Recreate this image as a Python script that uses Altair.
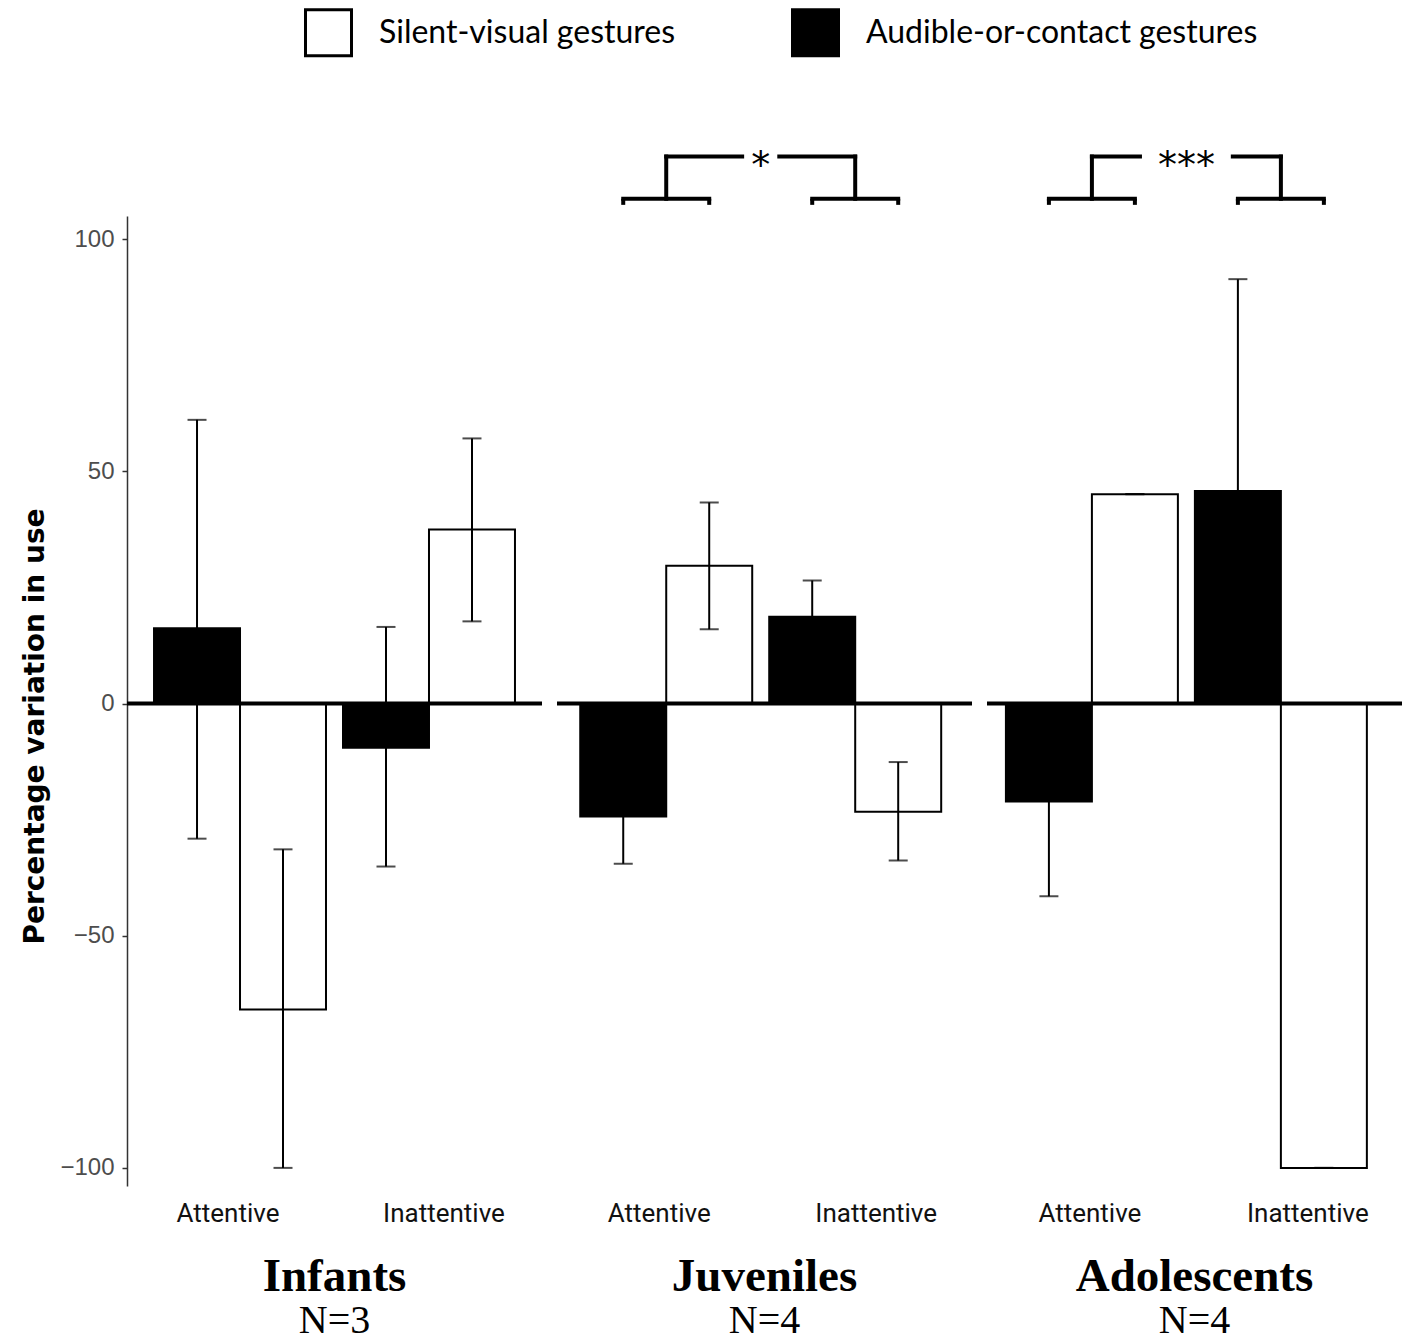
import altair as alt
import pandas as pd

# ---------------- data ----------------
groups = ["Infants", "Juveniles", "Adolescents"]
group_n = ["N=3", "N=4", "N=4"]
conditions = ["Attentive", "Inattentive"]
series = ["Audible-or-contact gestures", "Silent-visual gestures"]   # left / right bar in each pair
legend_order = ["Silent-visual gestures", "Audible-or-contact gestures"]

# order inside each group: Att-Audible, Att-Silent, Inatt-Audible, Inatt-Silent
means = {
    "Infants":     [16.2, -65.9, -9.5, 37.5],
    "Juveniles":   [-24.3, 29.7, 18.7, -23.3],
    "Adolescents": [-21.1, 45.1, 45.8, -100.0],
}
err_lo = {
    "Infants":     [-29.1, -100.0, -35.1, 17.7],
    "Juveniles":   [-34.5, 16.0, 10.9, -33.8],
    "Adolescents": [-41.5, 45.1, 0.2, -100.0],
}
err_hi = {
    "Infants":     [61.1, -31.4, 16.5, 57.1],
    "Juveniles":   [-14.1, 43.3, 26.5, -12.6],
    "Adolescents": [-0.4, 45.1, 91.4, -100.0],
}
sig_groups = ["Juveniles", "Adolescents"]
sig_labels = ["*", "***"]

rows = []
for g in groups:
    k = 0
    for c in conditions:
        for s in series:
            rows.append(dict(group=g, condition=c, series=s,
                             mean=means[g][k], lo=err_lo[g][k], hi=err_hi[g][k]))
            k += 1
df = pd.DataFrame(rows)

# ---------------- layout / style constants ----------------
Y_DOMAIN = [-103.9, 105.0]
PAD_INNER = 0.09
PAD_OUTER = 0.143
ALIGNS = [0.5, 0.43, 0.35]                 # outer-padding split per panel
PANEL_W = 415
PANEL_H = 970
BR_LOW = 108.7
BR_HIGH = 117.8
BR_TICK = 107.4
STEP = PANEL_W / (2 - PAD_INNER + 2 * PAD_OUTER)
HALF_GAP_PX = STEP * PAD_INNER / 2
MID = 0.5 + 0.5 / (1 - PAD_INNER)          # midpoint between the two bands, in Attentive band units
MID_I = MID - 1 / (1 - PAD_INNER)          # same point in Inattentive band units
GAP_HALF = {"*": 0.108, "***": 0.27}
LABEL_SHIFT = [(-12, 15), (-7, 21), (-2, 27)]   # x-label offsets (px) per panel

yscale = alt.Scale(domain=Y_DOMAIN, nice=False, zero=False)
fill_scale = alt.Scale(domain=legend_order, range=["white", "black"])
legend = alt.Legend(
    title=None, orient="none", legendX=177, legendY=-208, direction="horizontal",
    symbolType="square", symbolSize=2116, symbolStrokeWidth=3, symbolStrokeColor="black",
    labelFont="Lato", labelFontSize=32, labelColor="black", labelOffset=26,
    columnPadding=110, labelLimit=600,
)


def y_axis(first):
    if not first:
        return None
    return alt.Axis(
        values=[-100, -50, 0, 50, 100], grid=False,
        domainColor="#333333", domainWidth=1.5, tickColor="#333333", tickSize=5, tickWidth=1.5,
        labelFont="Liberation Sans", labelFontSize=24, labelColor="#4d4d4d", labelPadding=8,
        titleFont="DejaVu Sans", titleFontSize=28, titleFontWeight="bold", titleColor="black",
        titlePadding=10, titleY=510,
    )


def panel(i, g):
    first = i == 0
    d = df[df.group == g]
    ax = y_axis(first)
    ytitle = "Percentage variation in use"
    off_a, off_i = LABEL_SHIFT[i]
    xenc = alt.X(
        "condition:N",
        scale=alt.Scale(domain=conditions, paddingInner=PAD_INNER, paddingOuter=PAD_OUTER, align=ALIGNS[i]),
        axis=alt.Axis(ticks=False, domain=False, labelAngle=0, labelFont="Roboto", labelFontSize=26,
                      labelColor="#111111", labelPadding=14,
                      labelOffset={"condition": {"test": "datum.value === 'Attentive'", "value": off_a},
                                   "value": off_i}),
        title=None,
    )
    xoff = alt.XOffset("series:N", scale=alt.Scale(domain=series, paddingInner=0, paddingOuter=0))
    base = alt.Chart(d).encode(x=xenc, xOffset=xoff)

    bars = base.mark_bar(stroke="black", strokeWidth=2).encode(
        y=alt.Y("mean:Q", scale=yscale, axis=ax, title=ytitle),
        y2=alt.datum(0),
        fill=alt.Fill("series:N", scale=fill_scale, legend=legend),
    )
    err = base.mark_rule(color="black", strokeWidth=2).encode(
        y=alt.Y("lo:Q", scale=yscale, axis=ax, title=ytitle), y2="hi:Q")
    cap_lo = base.mark_tick(color="black", thickness=2, size=19, orient="horizontal").encode(
        y=alt.Y("lo:Q", scale=yscale, axis=ax, title=ytitle))
    cap_hi = base.mark_tick(color="black", thickness=2, size=19, orient="horizontal").encode(
        y=alt.Y("hi:Q", scale=yscale, axis=ax, title=ytitle))
    zero = alt.Chart(pd.DataFrame({"z": [0]})).mark_rule(color="black", strokeWidth=4).encode(
        y=alt.Y("z:Q", scale=yscale, axis=ax, title=ytitle))

    layers = [bars, zero, err, cap_lo, cap_hi]

    if g in sig_groups:
        lab = sig_labels[sig_groups.index(g)]
        h = GAP_HALF[lab]
        bd = pd.DataFrame({"condition": conditions, "ylow": [BR_LOW] * 2, "yhigh": [BR_HIGH] * 2,
                           "ytick": [BR_TICK] * 2})
        bb = alt.Chart(bd)
        rk = dict(color="black", strokeWidth=4, strokeCap="square")
        ycomm = dict(scale=yscale, axis=ax, title=ytitle)
        low_h = bb.mark_rule(**rk).encode(
            x=alt.X("condition:N", bandPosition=0.25),
            x2=alt.X2("condition", bandPosition=0.75),
            y=alt.Y("ylow:Q", **ycomm))
        tick_l = bb.mark_rule(color="black", strokeWidth=4).encode(
            x=alt.X("condition:N", bandPosition=0.25), y=alt.Y("ylow:Q", **ycomm), y2="ytick:Q")
        tick_r = bb.mark_rule(color="black", strokeWidth=4).encode(
            x=alt.X("condition:N", bandPosition=0.75), y=alt.Y("ylow:Q", **ycomm), y2="ytick:Q")
        vert = bb.mark_rule(**rk).encode(
            x=alt.X("condition:N", bandPosition=0.5), y=alt.Y("ylow:Q", **ycomm), y2="yhigh:Q")
        td = pd.DataFrame({"a": [conditions[0]], "b": [conditions[1]], "yhigh": [BR_HIGH], "label": [lab]})
        tb = alt.Chart(td)
        up_l = tb.mark_rule(**rk).encode(
            x=alt.X("a:N", bandPosition=0.5), x2=alt.X2("a", bandPosition=MID - h),
            y=alt.Y("yhigh:Q", **ycomm))
        up_r = tb.mark_rule(**rk).encode(
            x=alt.X("b:N", bandPosition=MID_I + h), x2=alt.X2("b", bandPosition=0.5),
            y=alt.Y("yhigh:Q", **ycomm))
        txt = tb.mark_text(font="DejaVu Sans", fontSize=38, color="black", baseline="middle",
                           dy=10, dx=HALF_GAP_PX).encode(
            x=alt.X("a:N", bandPosition=1.0), y=alt.Y("yhigh:Q", **ycomm), text="label:N")
        layers += [low_h, tick_l, tick_r, vert, up_l, up_r, txt]

    return alt.layer(*layers).properties(
        width=PANEL_W, height=PANEL_H,
        title=alt.TitleParams(
            text=g, subtitle=group_n[i], orient="bottom", anchor="middle",
            font="Liberation Serif", fontSize=47, fontWeight="bold", color="black",
            subtitleFont="Liberation Serif", subtitleFontSize=40, subtitleColor="black",
            subtitlePadding=0, offset=28,
        ),
    )


chart = alt.hconcat(*[panel(i, g) for i, g in enumerate(groups)], spacing=11).configure_view(
    stroke=None
).resolve_scale(fill="shared").properties(
    padding={"left": 13, "top": 0, "right": 5, "bottom": 0}
)

chart.save("out.html", embed_options={"renderer": "svg", "actions": False})
